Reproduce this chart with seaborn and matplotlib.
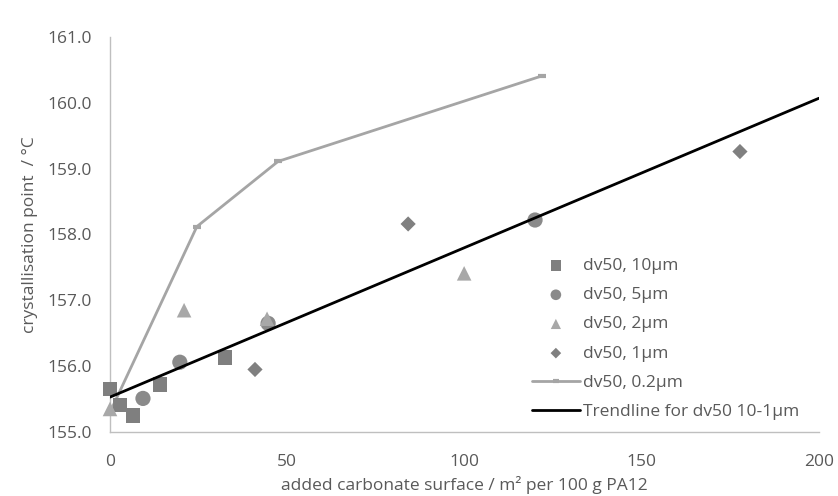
import matplotlib
matplotlib.use("Agg")
import matplotlib.pyplot as plt
import seaborn as sns

# data
x_10 = [0, 2.8, 6.5, 14.1, 32.4]
y_10 = [155.65, 155.41, 155.25, 155.72, 156.13]
x_5 = [9.3, 19.7, 44.6, 119.9]
y_5 = [155.51, 156.06, 156.65, 158.22]
x_2 = [0, 20.9, 44.3, 99.9]
y_2 = [155.35, 156.85, 156.72, 157.41]
x_1 = [40.9, 84.1, 177.7]
y_1 = [155.95, 158.16, 159.26]
x_02 = [0, 24.5, 47.4, 121.9]
y_02 = [155.3, 158.12, 159.11, 160.41]
trend_x = [0, 200]
trend_y = [155.53, 160.07]

x_ticks = [0, 50, 100, 150, 200]
y_ticks = [155.0, 156.0, 157.0, 158.0, 159.0, 160.0, 161.0]

sns.set_theme(style="white")
plt.rcParams['font.family'] = ['Open Sans', 'DejaVu Sans']

fig = plt.figure(figsize=(8.38, 4.96), dpi=100)
ax = fig.add_axes([110/838, 1-432/496, (819-110)/838, (432-37)/496])

txt = '#595959'
fs = 12.5
sns.scatterplot(x=x_10, y=y_10, marker='s', s=110, color='#7f7f7f', edgecolor='none', ax=ax, label='dv50, 10µm', zorder=3, clip_on=False)
sns.scatterplot(x=x_5, y=y_5, marker='o', s=120, color='#8a8a8a', edgecolor='none', ax=ax, label='dv50, 5µm', zorder=3, clip_on=False)
sns.scatterplot(x=x_2, y=y_2, marker='^', s=110, color='#a8a8a8', edgecolor='none', ax=ax, label='dv50, 2µm', zorder=3, clip_on=False)
sns.scatterplot(x=x_1, y=y_1, marker='D', s=60, color='#808080', edgecolor='none', ax=ax, label='dv50, 1µm', zorder=3, clip_on=False)
sns.lineplot(x=x_02, y=y_02, color='#a5a5a5', lw=2, marker='_', markersize=6, markeredgewidth=3,
             markeredgecolor='#a5a5a5', ax=ax, label='dv50, 0.2µm', zorder=2, sort=False, clip_on=False)
sns.lineplot(x=trend_x, y=trend_y, color='black', lw=2, ax=ax, label='Trendline for dv50 10-1µm', zorder=4)

ax.set_xlim(0, 200)
ax.set_ylim(155, 161)
ax.set_xticks(x_ticks)
ax.set_xticklabels([str(v) for v in x_ticks])
ax.set_yticks(y_ticks)
ax.set_yticklabels([f"{v:.1f}" for v in y_ticks])

for s in ['top', 'right']:
    ax.spines[s].set_visible(False)
for s in ['left', 'bottom']:
    ax.spines[s].set_color('#bfbfbf')
    ax.spines[s].set_linewidth(1)
ax.tick_params(axis='both', direction='in', length=5, width=1, color='#bfbfbf', labelcolor=txt, labelsize=fs)
ax.tick_params(axis='x', pad=16)
ax.tick_params(axis='y', pad=13)

ax.set_xlabel('added carbonate surface / m² per 100 g PA12', color=txt, fontsize=fs, labelpad=4)
ax.set_ylabel('crystallisation point  / °C', color=txt, fontsize=fs, labelpad=7)

leg = ax.legend(loc='upper left', bbox_to_anchor=(532/838, 1-258/496), bbox_transform=fig.transFigure,
                frameon=False, fontsize=fs, labelspacing=0.75, handlelength=2.75,
                handletextpad=0.2, borderaxespad=0, borderpad=0, markerscale=0.7)
for t in leg.get_texts():
    t.set_color(txt)

fig.savefig('out.png', dpi=100)
